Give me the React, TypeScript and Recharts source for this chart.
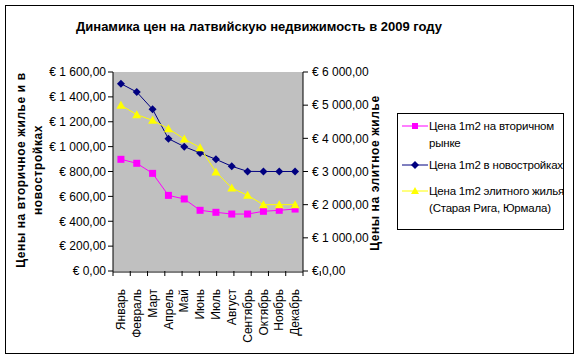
import { LineChart, Line, XAxis, YAxis, CartesianGrid } from "recharts";

const months = [
  "Январь", "Февраль", "Март", "Апрель", "Май", "Июнь",
  "Июль", "Август", "Сентябрь", "Октябрь", "Ноябрь", "Декабрь",
];
// left axis
const secondary = [898, 866, 785, 608, 579, 488, 472, 458, 458, 480, 488, 498];
const newBuild = [1506, 1439, 1300, 1064, 1000, 949, 898, 842, 801, 800, 800, 800];
// right axis
const elite = [5000, 4714, 4543, 4291, 3980, 3719, 2985, 2503, 2281, 2000, 2000, 2000];

const leftTicks = [0, 200, 400, 600, 800, 1000, 1200, 1400, 1600];
const rightTicks = [0, 1000, 2000, 3000, 4000, 5000, 6000];
const monthCenters = months.map((_, i) => i + 0.5);
const monthEdges = [0, 1, 2, 3, 4, 5, 6, 7, 8, 9, 10, 11, 12];

const data = months.map((m, i) => ({
  pos: i + 0.5,
  month: m,
  secondary: secondary[i],
  newBuild: newBuild[i],
  elite: elite[i],
}));

const FONT = "Arial, 'Liberation Sans', sans-serif";
const MAGENTA = "#FF00FF";
const NAVY = "#000080";
const YELLOW = "#FFFF00";

const euro = (v: number) => {
  const s = Math.round(v).toString().replace(/\B(?=(\d{3})+(?!\d))/g, " ");
  return `€ ${s},00`;
};

const MonthTick = (props: any) => {
  const { x, y, payload } = props;
  const label = months[Math.floor(payload.value)] ?? "";
  return (
    <g transform={`translate(${x},${y + 9})`}>
      <text transform="rotate(-90)" textAnchor="end" dy="0.35em" fontSize={12} fontFamily={FONT} fill="#000">
        {label}
      </text>
    </g>
  );
};

const SquareDot = (props: any) => {
  const { cx, cy, index } = props;
  return <rect key={`s${index}`} x={cx - 3.5} y={cy - 3.5} width={7} height={7} fill={MAGENTA} />;
};
const DiamondDot = (props: any) => {
  const { cx, cy, index } = props;
  return <path key={`d${index}`} d={`M${cx},${cy - 4}L${cx + 4},${cy}L${cx},${cy + 4}L${cx - 4},${cy}Z`} fill={NAVY} />;
};
const TriangleDot = (props: any) => {
  const { cx, cy, index } = props;
  return <path key={`t${index}`} d={`M${cx},${cy - 4.5}L${cx + 4.5},${cy + 3.5}L${cx - 4.5},${cy + 3.5}Z`} fill={YELLOW} />;
};

const LegendMark = ({ type, color }: { type: string; color: string }) => (
  <svg width={26} height={10} style={{ position: "absolute", left: 2, top: 3 }}>
    <line x1={0} y1={5} x2={26} y2={5} stroke={color} strokeWidth={1} />
    {type === "square" && <rect x={10} y={2} width={6} height={6} fill={color} />}
    {type === "diamond" && <path d="M13,1L17,5L13,9L9,5Z" fill={color} />}
    {type === "triangle" && <path d="M13,1L17,8L9,8Z" fill={color} />}
  </svg>
);

const legendItems = [
  { type: "square", color: MAGENTA, lines: ["Цена 1m2 на вторичном", "рынке"], top: 4 },
  { type: "diamond", color: NAVY, lines: ["Цена 1m2 в  новостройках"], top: 43 },
  { type: "triangle", color: YELLOW, lines: ["Цена 1m2 элитного жилья", "(Старая Рига,  Юрмала)"], top: 69 },
];

export default function App() {
  return (
    <div style={{ position: "absolute", left: 0, top: 0, width: 579, height: 359, background: "#fff", fontFamily: FONT }}>
      <div style={{ position: "absolute", left: 5, top: 5, width: 567, height: 347, border: "1px solid #000" }} />
      <div style={{ position: "absolute", left: 0, top: 19, width: 518, textAlign: "center", fontSize: 13, fontWeight: "bold" }}>
        Динамика цен на латвийскую недвижимость в 2009 году
      </div>
      <div style={{ position: "absolute", left: 0, top: 0 }}>
        <LineChart width={579} height={359} data={data} margin={{ top: 72, right: 206, bottom: 86, left: 0 }}>
          <CartesianGrid xAxisId="m" yAxisId="left" horizontal={false} vertical={false} fill="#C0C0C0" stroke="none" />
          <XAxis
            xAxisId="m"
            type="number"
            dataKey="pos"
            domain={[0, 12]}
            ticks={monthCenters}
            interval={0}
            height={1}
            tick={<MonthTick />}
            tickLine={false}
            axisLine={{ stroke: "#000" }}
          />
          <XAxis
            xAxisId="edges"
            type="number"
            domain={[0, 12]}
            ticks={monthEdges}
            interval={0}
            height={1}
            tickSize={5}
            tickFormatter={() => ""}
            tickLine={{ stroke: "#000" }}
            axisLine={false}
          />
          <YAxis
            yAxisId="left"
            domain={[0, 1600]}
            ticks={leftTicks}
            interval={0}
            width={113}
            tickSize={5}
            tickMargin={2}
            tickFormatter={euro}
            tick={{ fontSize: 12, fontFamily: FONT, fill: "#000" }}
            axisLine={{ stroke: "#000" }}
            tickLine={{ stroke: "#000" }}
            label={{
              content: () => (
                <text transform="translate(30,170) rotate(-90)" textAnchor="middle" fontSize={12} fontWeight="bold" fontFamily={FONT} letterSpacing={0.6}>
                  <tspan x={0} dy={-5}>Цены на вторичное жилье и в</tspan>
                  <tspan x={0} dy={17}>новостройках</tspan>
                </text>
              ),
            }}
          />
          <YAxis
            yAxisId="right"
            orientation="right"
            domain={[0, 6000]}
            ticks={rightTicks}
            interval={0}
            width={70}
            tickSize={5}
            tickMargin={4}
            tickFormatter={euro}
            tick={{ fontSize: 12, fontFamily: FONT, fill: "#000", textAnchor: "start" }}
            axisLine={{ stroke: "#000" }}
            tickLine={{ stroke: "#000" }}
            label={{
              content: () => (
                <text transform="translate(379,173) rotate(-90)" textAnchor="middle" fontSize={12} fontWeight="bold" fontFamily={FONT} letterSpacing={0.6}>
                  Цены на элитное жилье
                </text>
              ),
            }}
          />
          <Line xAxisId="m" yAxisId="left" dataKey="secondary" stroke={MAGENTA} strokeWidth={1} dot={SquareDot} isAnimationActive={false} />
          <Line xAxisId="m" yAxisId="left" dataKey="newBuild" stroke={NAVY} strokeWidth={1} dot={DiamondDot} isAnimationActive={false} />
          <Line xAxisId="m" yAxisId="right" dataKey="elite" stroke={YELLOW} strokeWidth={1} dot={TriangleDot} isAnimationActive={false} />
        </LineChart>
      </div>
      <div style={{ position: "absolute", left: 397, top: 113, width: 165, height: 115, border: "1px solid #000", background: "#fff" }}>
        {legendItems.map((it) => (
          <div key={it.type} style={{ position: "absolute", left: 2, top: it.top, width: 160 }}>
            <LegendMark type={it.type} color={it.color} />
            <div style={{ marginLeft: 29, fontSize: 11.5, lineHeight: "17px", whiteSpace: "nowrap", letterSpacing: -0.2 }}>
              {it.lines.map((l) => (
                <div key={l}>{l}</div>
              ))}
            </div>
          </div>
        ))}
      </div>
    </div>
  );
}
